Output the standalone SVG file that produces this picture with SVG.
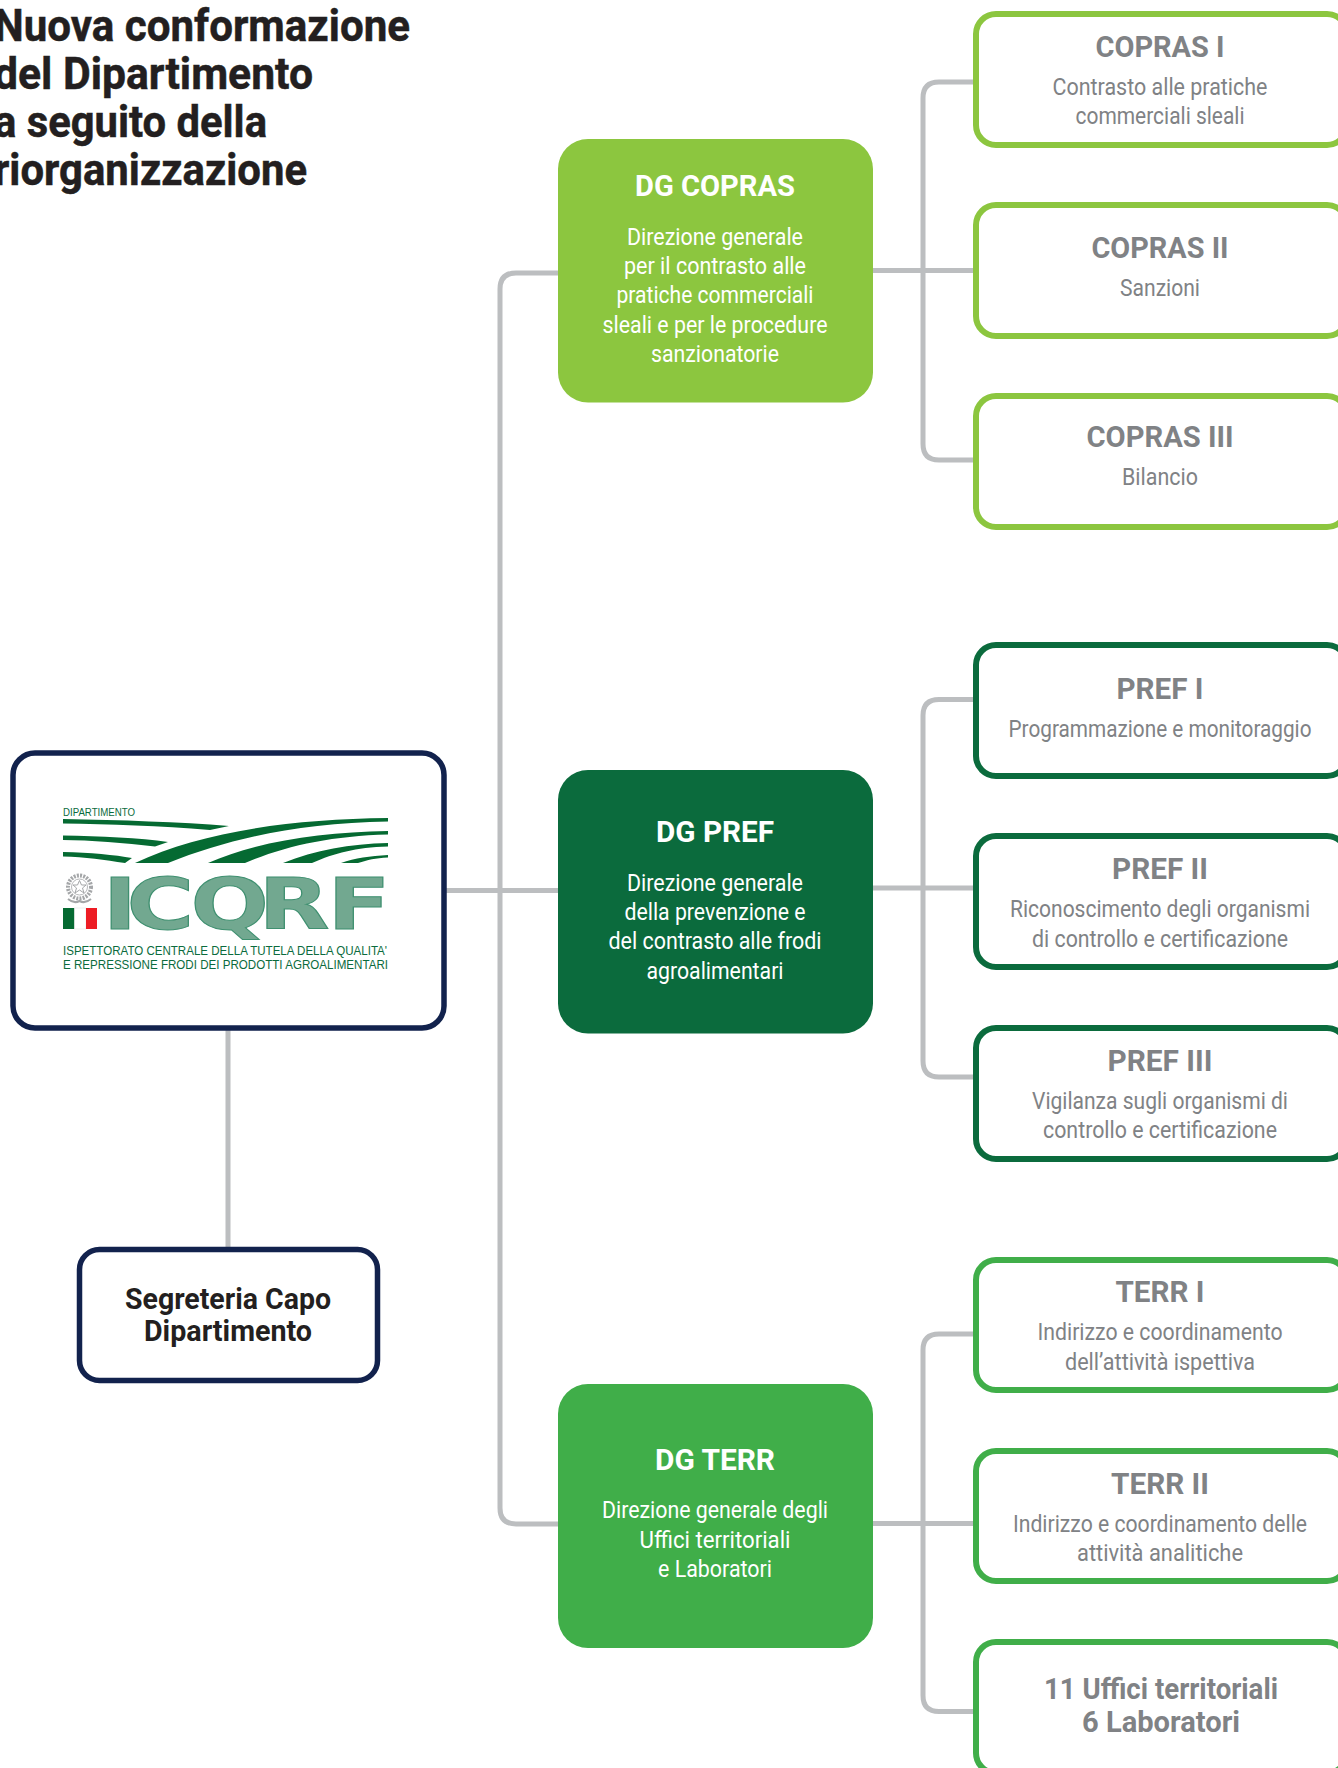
<svg xmlns="http://www.w3.org/2000/svg" width="1338" height="1768" viewBox="0 0 1338 1768">
<style>
text{font-family:Roboto,"Liberation Sans",sans-serif;text-anchor:middle}
.title{font-size:44px;font-weight:700;fill:#231f20;text-anchor:start;stroke:#231f20;stroke-width:.5}
.seg{font-size:29px;font-weight:700;fill:#231f20}
.dgh{font-size:29px;font-weight:700;fill:#fff}
.dgd{font-size:24px;font-weight:400;fill:#fff}
.h{font-size:29px;font-weight:700;fill:#808285}
.d{font-size:24px;font-weight:400;fill:#808285}
.navy{fill:#fff;stroke:#12224d;stroke-width:5.5}
.b{fill:#fff;stroke-width:6}
.lg{stroke:#8cc63f}.dk{stroke:#0b6b3d}.md{stroke:#40ae49}
.con{fill:none;stroke:#bcbec0;stroke-width:5}
.lt{fill:#0b6b3d;font-family:"Liberation Sans",sans-serif;text-anchor:start}
.sw{fill:#056a32}
</style>
<rect width="1338" height="1768" fill="#fff"/>
<g id="connectors" class="con">
<path d="M446 890.500H558"/>
<path d="M558 273H516Q500 273 500 289V1508Q500 1524 516 1524H558"/>
<path d="M228 1030V1248"/>
<path d="M976 82H939Q923 82 923 98V444Q923 460 939 460H976"/>
<path d="M872 270.500H976"/>
<path d="M976 699.500H939Q923 699.500 923 715.500V1061Q923 1077 939 1077H976"/>
<path d="M872 888H976"/>
<path d="M976 1334H939Q923 1334 923 1350V1695.500Q923 1711.500 939 1711.500H976"/>
<path d="M872 1523.500H976"/>
</g>
<g id="title">
<text class="title" x="-6" y="41" textLength="416" lengthAdjust="spacingAndGlyphs">Nuova conformazione</text>
<text class="title" x="-6" y="89" textLength="319" lengthAdjust="spacingAndGlyphs">del Dipartimento</text>
<text class="title" x="-6" y="137" textLength="273" lengthAdjust="spacingAndGlyphs">a seguito della</text>
<text class="title" x="-6" y="185" textLength="313" lengthAdjust="spacingAndGlyphs">riorganizzazione</text>
</g>
<g id="icqrf">
<rect class="navy" x="13" y="753" width="431" height="275" rx="22"/>
<g id="logo">
<text class="lt" x="63" y="816" font-size="10.500" textLength="72" lengthAdjust="spacingAndGlyphs">DIPARTIMENTO</text>
<path class="sw" d="M63 819C120 820 180 822 229 826L210 830C160 826 110 824 63 823.500Z"/>
<path class="sw" d="M63 835.500C100 836 140 838 168 842L155 846.500C125 843 90 840 63 840Z"/>
<path class="sw" d="M63 852C90 852.500 115 855 132 858L125 863C105 860 85 857 63 856.500Z"/>
<path class="sw" d="M388 818V821.500C300 823 230 838 168 863H135C200 832 290 819 388 818Z"/>
<path class="sw" d="M388 831V834.500C330 836 285 846 245 863H208C255 842 320 832 388 831Z"/>
<path class="sw" d="M388 843V846.500C355 847.500 335 853 312 863H283C315 850 350 844 388 843Z"/>
<path class="sw" d="M388 855V857.500C375 858 368 860 358 863H341C355 858 370 856 388 855Z"/>
<g fill="none" stroke="#a4a6a8">
<circle cx="79.500" cy="887" r="11.500" stroke-width="4" stroke-dasharray="2 1.200"/>
<circle cx="79.500" cy="887" r="8" stroke-width="0.800"/>
<path d="M79.500 880.500L81.500 885H86L82.500 888L84 893L79.500 890L75 893L76.500 888L73 885H77.500Z" stroke-width="1"/>
<path d="M68 899Q74 904 79.500 901Q85 904 91 899" stroke-width="2"/>
</g>
<rect x="63" y="908" width="11.500" height="21" fill="#056a32"/>
<rect x="74.500" y="908" width="11.500" height="21" fill="#fff" stroke="#ddd" stroke-width="0.500"/>
<rect x="86" y="908" width="11" height="21" fill="#ed1c24"/>
<text transform="translate(0 929) scale(1.3 1)" x="79 97.300 146.500 198.900 252" y="0" font-size="71" style="font-family:'DejaVu Sans',sans-serif;font-weight:700;text-anchor:start;fill:#72a890;stroke:#3f9070;stroke-width:1">ICQRF</text>
<text class="lt" x="63" y="954.500" font-size="13" textLength="324" lengthAdjust="spacingAndGlyphs">ISPETTORATO CENTRALE DELLA TUTELA DELLA QUALITA'</text>
<text class="lt" x="63" y="968.500" font-size="13" textLength="325" lengthAdjust="spacingAndGlyphs">E REPRESSIONE FRODI DEI PRODOTTI AGROALIMENTARI</text>
</g>
</g>
<g id="segreteria">
<rect class="navy" x="79.500" y="1249.500" width="298" height="131" rx="20"/>
<text class="seg" x="228" y="1309" textLength="206" lengthAdjust="spacingAndGlyphs">Segreteria Capo</text>
<text class="seg" x="228" y="1341" textLength="168" lengthAdjust="spacingAndGlyphs">Dipartimento</text>
</g>
<g id="dg-copras">
<rect x="558" y="139" width="315" height="263.500" rx="30" fill="#8cc63f"/>
<text class="dgh" x="715" y="196" textLength="160" lengthAdjust="spacingAndGlyphs">DG COPRAS</text>
<text class="dgd" x="715" y="245" textLength="176" lengthAdjust="spacingAndGlyphs">Direzione generale</text>
<text class="dgd" x="715" y="274" textLength="182" lengthAdjust="spacingAndGlyphs">per il contrasto alle</text>
<text class="dgd" x="715" y="303" textLength="197" lengthAdjust="spacingAndGlyphs">pratiche commerciali</text>
<text class="dgd" x="715" y="333" textLength="225" lengthAdjust="spacingAndGlyphs">sleali e per le procedure</text>
<text class="dgd" x="715" y="362" textLength="128" lengthAdjust="spacingAndGlyphs">sanzionatorie</text>
</g>
<g id="dg-pref">
<rect x="558" y="770" width="315" height="263.500" rx="30" fill="#0b6b3d"/>
<text class="dgh" x="715" y="842" textLength="118" lengthAdjust="spacingAndGlyphs">DG PREF</text>
<text class="dgd" x="715" y="891" textLength="176" lengthAdjust="spacingAndGlyphs">Direzione generale</text>
<text class="dgd" x="715" y="920" textLength="181" lengthAdjust="spacingAndGlyphs">della prevenzione e</text>
<text class="dgd" x="715" y="949" textLength="213" lengthAdjust="spacingAndGlyphs">del contrasto alle frodi</text>
<text class="dgd" x="715" y="979" textLength="137" lengthAdjust="spacingAndGlyphs">agroalimentari</text>
</g>
<g id="dg-terr">
<rect x="558" y="1384" width="315" height="264" rx="30" fill="#40ae49"/>
<text class="dgh" x="715" y="1470" textLength="120" lengthAdjust="spacingAndGlyphs">DG TERR</text>
<text class="dgd" x="715" y="1518" textLength="226" lengthAdjust="spacingAndGlyphs">Direzione generale degli</text>
<text class="dgd" x="715" y="1547.500" textLength="151" lengthAdjust="spacingAndGlyphs">Uffici territoriali</text>
<text class="dgd" x="715" y="1576.500" textLength="114" lengthAdjust="spacingAndGlyphs">e Laboratori</text>
</g>
<g id="copras-1">
<rect class="b lg" x="976" y="14" width="371" height="131" rx="20"/>
<text class="h" x="1160" y="57" textLength="129" lengthAdjust="spacingAndGlyphs">COPRAS I</text>
<text class="d" x="1160" y="95" textLength="215" lengthAdjust="spacingAndGlyphs">Contrasto alle pratiche</text>
<text class="d" x="1160" y="124" textLength="169" lengthAdjust="spacingAndGlyphs">commerciali sleali</text>
</g>
<g id="copras-2">
<rect class="b lg" x="976" y="205" width="371" height="131" rx="20"/>
<text class="h" x="1160" y="258" textLength="137" lengthAdjust="spacingAndGlyphs">COPRAS II</text>
<text class="d" x="1160" y="296" textLength="80" lengthAdjust="spacingAndGlyphs">Sanzioni</text>
</g>
<g id="copras-3">
<rect class="b lg" x="976" y="396" width="371" height="131" rx="20"/>
<text class="h" x="1160" y="447" textLength="147" lengthAdjust="spacingAndGlyphs">COPRAS III</text>
<text class="d" x="1160" y="485" textLength="76" lengthAdjust="spacingAndGlyphs">Bilancio</text>
</g>
<g id="pref-1">
<rect class="b dk" x="976" y="645" width="371" height="131" rx="20"/>
<text class="h" x="1160" y="699" textLength="87" lengthAdjust="spacingAndGlyphs">PREF I</text>
<text class="d" x="1160" y="737" textLength="303" lengthAdjust="spacingAndGlyphs">Programmazione e monitoraggio</text>
</g>
<g id="pref-2">
<rect class="b dk" x="976" y="836" width="371" height="131" rx="20"/>
<text class="h" x="1160" y="879" textLength="96" lengthAdjust="spacingAndGlyphs">PREF II</text>
<text class="d" x="1160" y="917" textLength="300" lengthAdjust="spacingAndGlyphs">Riconoscimento degli organismi</text>
<text class="d" x="1160" y="947" textLength="256" lengthAdjust="spacingAndGlyphs">di controllo e certificazione</text>
</g>
<g id="pref-3">
<rect class="b dk" x="976" y="1028" width="371" height="131" rx="20"/>
<text class="h" x="1160" y="1071" textLength="105" lengthAdjust="spacingAndGlyphs">PREF III</text>
<text class="d" x="1160" y="1109" textLength="256" lengthAdjust="spacingAndGlyphs">Vigilanza sugli organismi di</text>
<text class="d" x="1160" y="1138" textLength="234" lengthAdjust="spacingAndGlyphs">controllo e certificazione</text>
</g>
<g id="terr-1">
<rect class="b md" x="976" y="1260" width="371" height="130" rx="20"/>
<text class="h" x="1160" y="1302" textLength="89" lengthAdjust="spacingAndGlyphs">TERR I</text>
<text class="d" x="1160" y="1340" textLength="245" lengthAdjust="spacingAndGlyphs">Indirizzo e coordinamento</text>
<text class="d" x="1160" y="1370" textLength="190" lengthAdjust="spacingAndGlyphs">dell’attività ispettiva</text>
</g>
<g id="terr-2">
<rect class="b md" x="976" y="1451" width="371" height="130" rx="20"/>
<text class="h" x="1160" y="1494" textLength="98" lengthAdjust="spacingAndGlyphs">TERR II</text>
<text class="d" x="1160" y="1532" textLength="294" lengthAdjust="spacingAndGlyphs">Indirizzo e coordinamento delle</text>
<text class="d" x="1160" y="1561" textLength="166" lengthAdjust="spacingAndGlyphs">attività analitiche</text>
</g>
<g id="terr-3">
<rect class="b md" x="976" y="1642" width="371" height="131" rx="20"/>
<text class="h" x="1161" y="1699" textLength="234" lengthAdjust="spacingAndGlyphs" style="font-size:30px">11 Uffici territoriali</text>
<text class="h" x="1161" y="1732" textLength="158" lengthAdjust="spacingAndGlyphs" style="font-size:30px">6 Laboratori</text>
</g>
</svg>
